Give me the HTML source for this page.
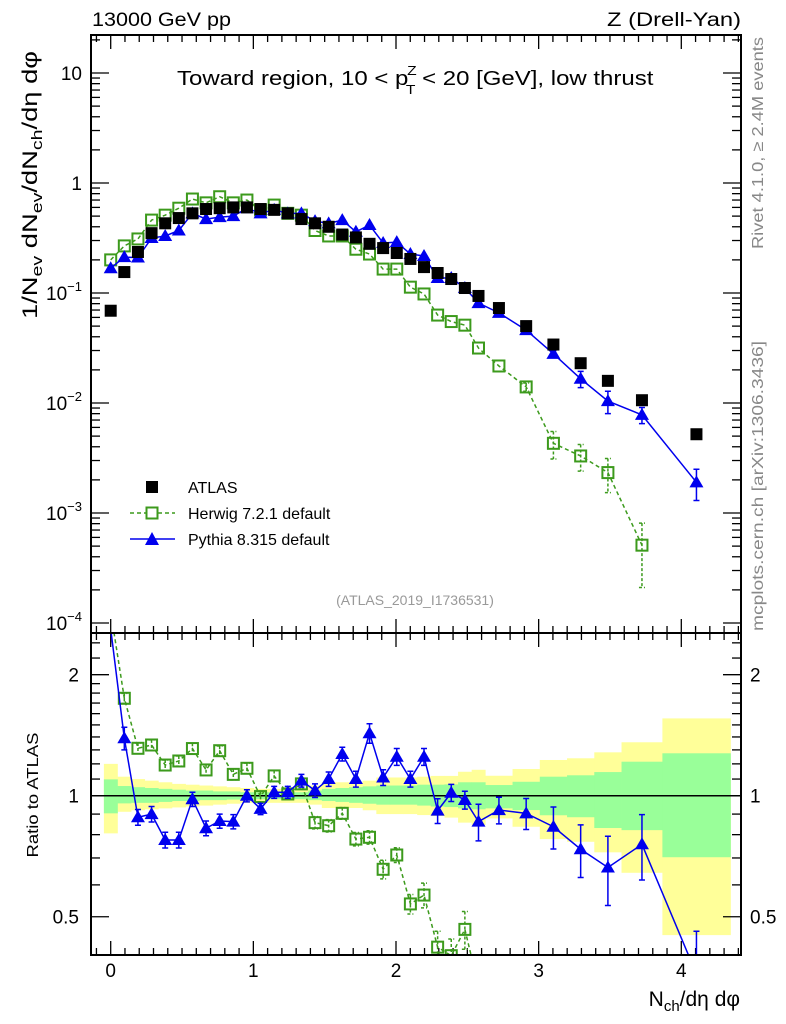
<!DOCTYPE html>
<html><head><meta charset="utf-8"><style>
html,body{margin:0;padding:0;background:#fff;width:786px;height:1024px;overflow:hidden;}
svg{display:block;font-family:"Liberation Sans",sans-serif;}
</style></head><body>
<svg id="chart" xmlns="http://www.w3.org/2000/svg" width="786" height="1024" viewBox="0 0 786 1024">
<defs>
<clipPath id="clipMain"><rect x="91" y="35" width="650" height="598"/></clipPath>
<clipPath id="clipRatio"><rect x="91" y="633" width="650" height="322"/></clipPath>
</defs>
<g id="bands" clip-path="url(#clipRatio)"></g>
<line x1="91" x2="741" y1="795.7" y2="795.7" stroke="#000" stroke-width="1.5"/>
<g id="ticks"></g>
<g id="mainMarks" clip-path="url(#clipMain)"></g>
<g id="ratioMarks" clip-path="url(#clipRatio)"></g>
<rect x="91" y="35" width="650" height="598" fill="none" stroke="#000" stroke-width="2"/>
<rect x="91" y="633" width="650" height="322" fill="none" stroke="#000" stroke-width="2"/>
<g id="labels" font-size="18">
<text x="92" y="26" font-size="19" textLength="139" lengthAdjust="spacingAndGlyphs">13000 GeV pp</text>
<text x="741" y="26" font-size="19" text-anchor="end" textLength="134" lengthAdjust="spacingAndGlyphs">Z (Drell-Yan)</text>
<text transform="translate(177,85) scale(1.2,1)" font-size="20">Toward region, 10 &lt; p<tspan font-size="13" dy="-10" dx="-1">Z</tspan><tspan font-size="13" dy="19" dx="-9">T</tspan><tspan dy="-9"> &lt; 20 [GeV], low thrust</tspan></text>
<text transform="translate(763,143) rotate(-90)" text-anchor="middle" font-size="16" fill="#888" textLength="212" lengthAdjust="spacingAndGlyphs">Rivet 4.1.0, ≥ 2.4M events</text>
<text transform="translate(763,486) rotate(-90)" text-anchor="middle" font-size="16" fill="#888" textLength="290" lengthAdjust="spacingAndGlyphs">mcplots.cern.ch [arXiv:1306.3436]</text>
<text x="415" y="605" text-anchor="middle" font-size="14" fill="#999">(ATLAS_2019_I1736531)</text>
<text transform="translate(37,185) rotate(-90)" text-anchor="middle" font-size="21" textLength="268" lengthAdjust="spacingAndGlyphs">1/N<tspan font-size="15" dy="5">ev</tspan><tspan dy="-5"> dN</tspan><tspan font-size="15" dy="5">ev</tspan><tspan dy="-5">/dN</tspan><tspan font-size="15" dy="5">ch</tspan><tspan dy="-5">/dη dφ</tspan></text>
<text transform="translate(38,795) rotate(-90)" text-anchor="middle" font-size="16" textLength="125" lengthAdjust="spacingAndGlyphs">Ratio to ATLAS</text>
<text x="740" y="1006" text-anchor="end" font-size="21">N<tspan font-size="15" dy="5">ch</tspan><tspan dy="-5">/dη dφ</tspan></text>
</g>
<g id="legend" font-size="16">
<rect x="146" y="481" width="12" height="12" fill="#000"/>
<text x="188" y="493">ATLAS</text>
<line x1="130" x2="175" y1="513" y2="513" stroke="#3c9a1c" stroke-width="1.5" stroke-dasharray="4,3"/>
<rect x="146.5" y="507.5" width="11" height="11" fill="#fff" stroke="#3c9a1c" stroke-width="2"/>
<text x="188" y="519">Herwig 7.2.1 default</text>
<line x1="130" x2="175" y1="539" y2="539" stroke="#0000ee" stroke-width="1.5"/>
<polygon points="152,532 159,545 145,545" fill="#0000ee"/>
<text x="188" y="545">Pythia 8.315 default</text>
</g>
</svg>
<script>
// ---- data ----
const nch = [0,1,2,3,4,5,6,7,8,9,10,11,12,13,14,15,16,17,18,19,20,21,22,23,24,25,26,27,28.5,30.5,32.5,34.5,36.5,39,43];
const binLo = [-0.5,0.5,1.5,2.5,3.5,4.5,5.5,6.5,7.5,8.5,9.5,10.5,11.5,12.5,13.5,14.5,15.5,16.5,17.5,18.5,19.5,20.5,21.5,22.5,23.5,24.5,25.5,26.5,27.5,29.5,31.5,33.5,35.5,37.5,40.5];
const binHi = [0.5,1.5,2.5,3.5,4.5,5.5,6.5,7.5,8.5,9.5,10.5,11.5,12.5,13.5,14.5,15.5,16.5,17.5,18.5,19.5,20.5,21.5,22.5,23.5,24.5,25.5,26.5,27.5,29.5,31.5,33.5,35.5,37.5,40.5,45.5];
const atlas = [0.069,0.155,0.236,0.35,0.43,0.48,0.53,0.58,0.59,0.60,0.60,0.58,0.57,0.53,0.47,0.43,0.40,0.34,0.32,0.28,0.256,0.231,0.204,0.172,0.152,0.134,0.111,0.094,0.073,0.050,0.034,0.023,0.0159,0.0106,0.0052];
const herwig = [0.2,0.268,0.31,0.46,0.51,0.59,0.715,0.66,0.75,0.66,0.70,0.57,0.63,0.53,0.51,0.37,0.33,0.33,0.25,0.226,0.165,0.165,0.113,0.098,0.063,0.055,0.051,0.0316,0.0217,0.014,0.0043,0.0033,0.00233,0.00051];
const herwigErr = [0,0,0,0,0,0,0,0,0,0,0,0,0,0,0,0,0,0,0,0,0,0,0,0,0,0,0,0,0,0.0012,0.0012,0.0009,0.0008,0.0003];
const pythia = [0.168,0.212,0.21,0.316,0.33,0.37,0.53,0.47,0.49,0.50,0.59,0.53,0.57,0.53,0.53,0.45,0.43,0.46,0.36,0.415,0.285,0.29,0.226,0.217,0.137,0.137,0.111,0.081,0.066,0.046,0.028,0.0166,0.0104,0.0078,0.0019];
const pythiaErr = [0,0,0,0,0,0,0,0,0,0,0,0,0,0,0,0,0,0,0,0,0,0,0,0,0,0,0,0,0,0,0.002,0.0028,0.0024,0.0013,0.0006];
const herwigRatio = [2.87,1.747,1.312,1.337,1.192,1.22,1.31,1.159,1.294,1.13,1.17,0.995,1.12,1.01,1.07,0.857,0.842,0.904,0.78,0.788,0.656,0.712,0.538,0.566,0.42,0.40,0.465,0.336,0.297,0.28,0.126,0.143,0.147,0.048];
const herwigRatioErr = [0,0.05,0.04,0.04,0.035,0.035,0.04,0.035,0.035,0.035,0.035,0.03,0.035,0.03,0.03,0.03,0.03,0.03,0.03,0.03,0.035,0.03,0.03,0.04,0.04,0.04,0.05,0.05,0.05,0.05,0.05,0.05,0.05,0.05];
const pythiaRatio = [2.6,1.39,0.884,0.90,0.776,0.776,0.98,0.83,0.865,0.862,1.0,0.927,1.02,1.02,1.09,1.03,1.10,1.27,1.10,1.43,1.11,1.25,1.10,1.25,0.918,1.017,0.976,0.862,0.921,0.904,0.837,0.736,0.663,0.757,0.36];
const pythiaRatioErr = [0,0.09,0.04,0.04,0.035,0.035,0.04,0.035,0.035,0.035,0.035,0.03,0.035,0.035,0.04,0.04,0.045,0.05,0.05,0.08,0.05,0.06,0.05,0.06,0.065,0.05,0.05,0.09,0.07,0.08,0.1,0.11,0.13,0.14,0.1];
const yellowUp = [1.20,1.115,1.10,1.09,1.08,1.07,1.065,1.06,1.055,1.05,1.045,1.04,1.04,1.04,1.04,1.06,1.08,1.08,1.08,1.09,1.11,1.11,1.11,1.115,1.12,1.12,1.147,1.16,1.121,1.165,1.227,1.239,1.282,1.358,1.557];
const yellowDn = [0.806,0.912,0.92,0.925,0.93,0.935,0.94,0.945,0.95,0.955,0.96,0.96,0.96,0.96,0.96,0.95,0.932,0.932,0.932,0.92,0.90,0.90,0.90,0.895,0.89,0.882,0.857,0.846,0.878,0.837,0.78,0.768,0.723,0.643,0.45];
const greenUp = [1.098,1.057,1.05,1.045,1.04,1.035,1.03,1.03,1.025,1.025,1.02,1.02,1.02,1.02,1.02,1.03,1.04,1.045,1.05,1.055,1.06,1.06,1.06,1.065,1.065,1.067,1.08,1.08,1.063,1.083,1.115,1.124,1.145,1.215,1.275];
const greenDn = [0.904,0.957,0.96,0.96,0.965,0.97,0.97,0.975,0.975,0.978,0.98,0.98,0.98,0.98,0.98,0.975,0.97,0.965,0.96,0.955,0.95,0.95,0.95,0.945,0.94,0.937,0.93,0.925,0.93,0.921,0.894,0.884,0.831,0.821,0.703];
const xTicks = [0,1,2,3,4];
const mainDecades = [-4,-3,-2,-1,0,1];
const ratioMajor = [0.5,1,2];

// ---- axes ----
const NS = "http://www.w3.org/2000/svg";
const UNIT = 10*Math.PI/3;
function X(n){ return 110.7 + (n/UNIT)*142.65; }
function XV(v){ return 110.7 + v*142.65; }
function Y(v){ return 183 - 110*Math.log10(v); }
function R(r){ return 795.7 - 402*Math.log10(r); }
function mk(tag, parent){ const e=document.createElementNS(NS,tag); parent.appendChild(e); return e; }
const GREEN="#3c9a1c", BLUE="#0000ee";

// bands
const bands=document.getElementById('bands');
for(let i=0;i<binLo.length;i++){
  const y=mk('rect',bands);
  
  
  y.setAttribute('x',X(binLo[i])); y.setAttribute('width',X(binHi[i])-X(binLo[i])+0.3);
  y.setAttribute('y',R(yellowUp[i])); y.setAttribute('height',R(yellowDn[i])-R(yellowUp[i]));
  y.setAttribute('fill','#ffff99');
}
for(let i=0;i<binLo.length;i++){
  const g=mk('rect',bands);
  
  
  g.setAttribute('x',X(binLo[i])); g.setAttribute('width',X(binHi[i])-X(binLo[i])+0.3);
  g.setAttribute('y',R(greenUp[i])); g.setAttribute('height',R(greenDn[i])-R(greenUp[i]));
  g.setAttribute('fill','#99ff99');
}

// ticks
const ticks=document.getElementById('ticks');
function tk(x1,y1,x2,y2){ const l=mk('line',ticks);   l.setAttribute('x1',x1);l.setAttribute('y1',y1);l.setAttribute('x2',x2);l.setAttribute('y2',y2);l.setAttribute('stroke','#000');l.setAttribute('stroke-width','1.3'); }
function lbl(x,y,txt,anchor,size,name){ const t=mk('text',ticks);   t.setAttribute('x',x);t.setAttribute('y',y);t.setAttribute('text-anchor',anchor);t.setAttribute('font-size',size); t.textContent=txt; return t; }
for(let k=-1;k<=44;k++){
  const v=k/10, x=XV(v); if(x<92||x>740) continue;
  const major=(k%10===0), len=major?14:7;
  tk(x,35,x,35+len); tk(x,633,x,633-len); tk(x,633,x,633+len); tk(x,955,x,955-len);
}
xTicks.forEach(v=>{ lbl(XV(v),977,String(v),'middle',19,'x-tick-label'); });
mainDecades.forEach(d=>{
  for(let m=1;m<=9;m++){
    const y=Y(m*Math.pow(10,d)); if(y<35||y>633) continue;
    const len=m===1?18:9;
    tk(91,y,91+len,y); tk(741,y,741-len,y);
  }
  const y=Y(Math.pow(10,d));
  if(d===0){ lbl(82,y+7,'1','end',19,'y-tick-label'); }
  else if(d===1){ lbl(82,y+7,'10','end',19,'y-tick-label'); }
  else { const t=lbl(82,y+7,'10','end',19,'y-tick-label'); const s=document.createElementNS(NS,'tspan'); s.setAttribute('font-size','13'); s.setAttribute('dy','-9'); s.textContent='−'+(-d); t.appendChild(s); }
});
[0.4,0.5,0.6,0.7,0.8,0.9,1,1.1,1.2,1.3,1.4,1.5,1.6,1.7,1.8,1.9,2,2.2,2.4].forEach(r=>{
  const y=R(r); if(y<634||y>954) return;
  const len=ratioMajor.includes(r)?18:9;
  tk(91,y,91+len,y); tk(741,y,741-len,y);
});
ratioMajor.forEach(r=>{ lbl(79,R(r)+7,String(r),'end',19,'ratio-tick-label'); lbl(750,R(r)+7,String(r),'start',19,'ratio-tick-label-right'); });

// series
function series(parent, xs, ys, errs, yfn, color, dashed, marker, name){
  const g=mk('g',parent);
  
  
  const pl=mk('polyline',g);
  
  
  pl.setAttribute('points', ys.map((v,i)=>X(xs[i])+','+yfn(v)).join(' '));
  pl.setAttribute('fill','none'); pl.setAttribute('stroke',color); pl.setAttribute('stroke-width','1.5');
  if(dashed) pl.setAttribute('stroke-dasharray','4,3');
  ys.forEach((v,i)=>{
    const x=X(xs[i]), y=yfn(v);
    if(errs && errs[i]>0){
      const y1=yfn(v+errs[i]), y2=yfn(Math.max(v-errs[i],1e-9));
      const e=mk('path',g);
      
      
      e.setAttribute('d',`M${x},${y1}V${y2}M${x-3},${y1}H${x+3}M${x-3},${y2}H${x+3}`);
      e.setAttribute('stroke',color); e.setAttribute('stroke-width','1.5'); e.setAttribute('fill','none');
      if(dashed) e.setAttribute('stroke-dasharray','3,2');
    }
    let m;
    if(marker==='fill'){ m=mk('rect',g); m.setAttribute('x',x-6);m.setAttribute('y',y-6);m.setAttribute('width',12);m.setAttribute('height',12);m.setAttribute('fill',color); }
    else if(marker==='open'){ m=mk('rect',g); m.setAttribute('x',x-5.5);m.setAttribute('y',y-5.5);m.setAttribute('width',11);m.setAttribute('height',11);m.setAttribute('fill','none');m.setAttribute('stroke',color);m.setAttribute('stroke-width','2'); }
    else { m=mk('polygon',g); m.setAttribute('points',`${x},${y-7} ${x+7},${y+5} ${x-7},${y+5}`); m.setAttribute('fill',color); }
    
    
  });
}
const mainG=document.getElementById('mainMarks');
series(mainG, nch, herwig, herwigErr, Y, GREEN, true, 'open', 'herwig-series');
series(mainG, nch, pythia, pythiaErr, Y, BLUE, false, 'tri', 'pythia-series');
atlas.forEach((v,i)=>{
  const m=mk('rect',mainG);
  
  
  m.setAttribute('x',X(nch[i])-6); m.setAttribute('y',Y(v)-6); m.setAttribute('width',12); m.setAttribute('height',12); m.setAttribute('fill','#000');
});
const ratioG=document.getElementById('ratioMarks');
series(ratioG, nch, herwigRatio, herwigRatioErr, R, GREEN, true, 'open', 'herwig-ratio');
series(ratioG, nch, pythiaRatio, pythiaRatioErr, R, BLUE, false, 'tri', 'pythia-ratio');
</script>
</body></html>
